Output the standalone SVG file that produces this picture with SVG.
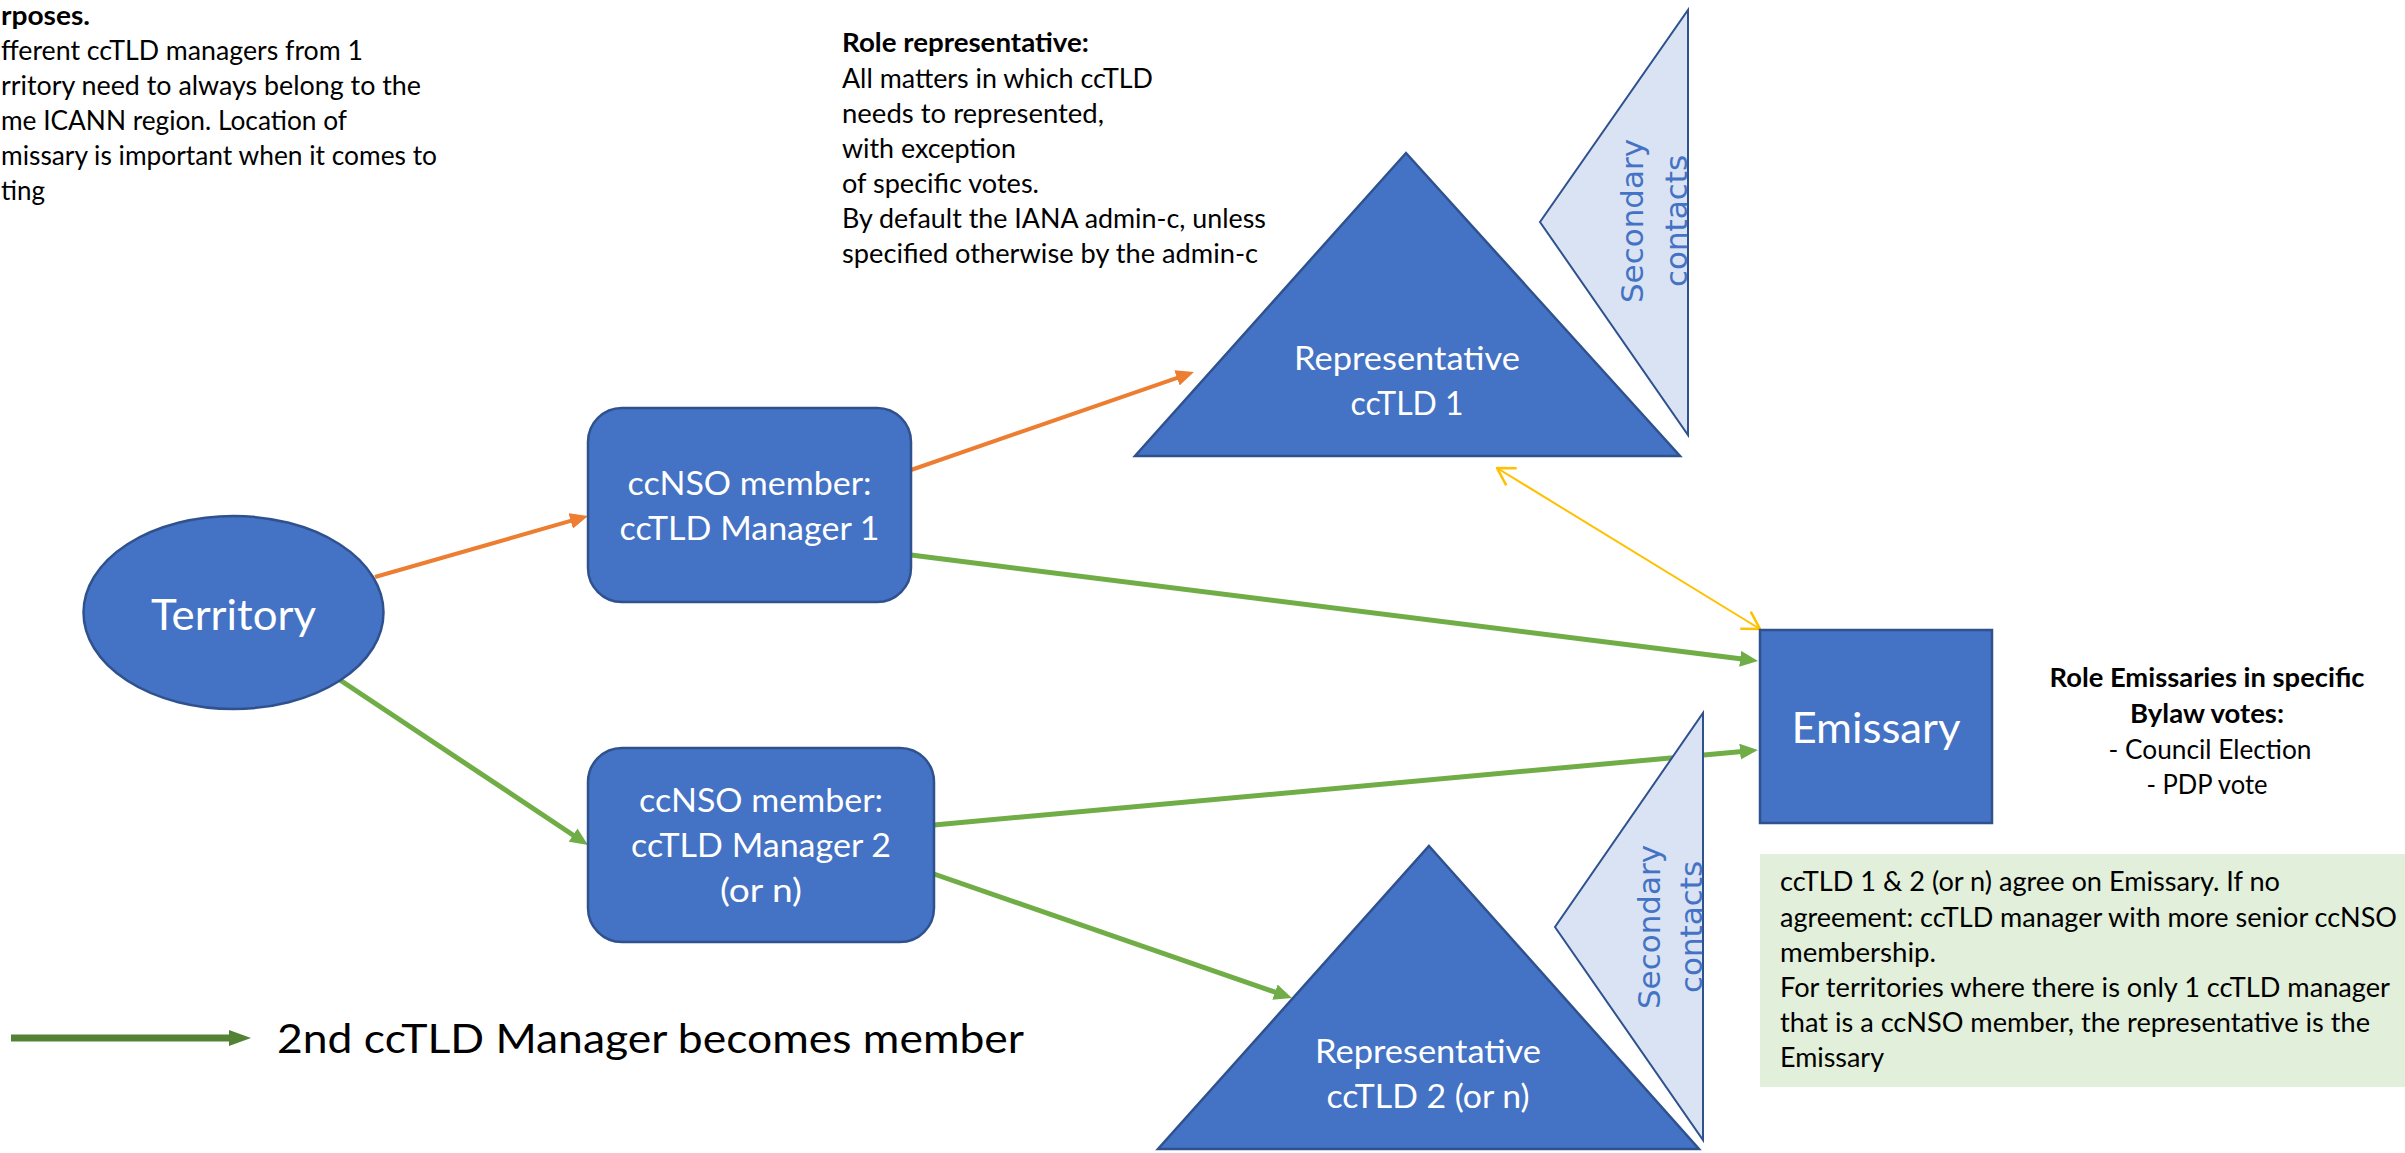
<svg xmlns="http://www.w3.org/2000/svg" width="2405" height="1153" viewBox="0 0 2405 1153">
<defs>
<style>
.t{font-family:Lato,"Liberation Sans",sans-serif;fill:#000}
.b{font-weight:bold}
.w{font-family:Lato,"Liberation Sans",sans-serif;fill:#fff;text-anchor:middle}
.sec{font-family:"DejaVu Sans","Liberation Sans",sans-serif;fill:#4472C4;font-size:31px;text-anchor:middle}
.shape{fill:#4472C4;stroke:#2F528F;stroke-width:2.5}
.light{fill:#DAE3F3;stroke:#2F528F;stroke-width:2}
.og{fill:none;stroke:#ED7D31;stroke-width:4}
.gr{fill:none;stroke:#70AD47;stroke-width:5}
.ye{fill:none;stroke:#FFC000;stroke-width:2}
</style>
<marker id="ao" viewBox="0 0 18 16" refX="8" refY="8" markerWidth="18" markerHeight="16" markerUnits="userSpaceOnUse" orient="auto"><path d="M0,0 L18,8 L0,16 z" fill="#ED7D31"/></marker>
<marker id="ag" viewBox="0 0 18 16" refX="8" refY="8" markerWidth="18" markerHeight="16" markerUnits="userSpaceOnUse" orient="auto"><path d="M0,0 L18,8 L0,16 z" fill="#70AD47"/></marker>
<marker id="ad" viewBox="0 0 22 16" refX="2" refY="8" markerWidth="22" markerHeight="16" markerUnits="userSpaceOnUse" orient="auto"><path d="M0,0 L22,8 L0,16 z" fill="#548235"/></marker>
<marker id="ay" viewBox="0 0 20 24" refX="19" refY="12" markerWidth="20" markerHeight="24" markerUnits="userSpaceOnUse" orient="auto-start-reverse"><path d="M2,2 L19,12 L2,22" fill="none" stroke="#FFC000" stroke-width="2.5"/></marker>
</defs>
<rect width="2405" height="1153" fill="#fff"/>

<g id="note-topleft">
<text class="t b" x="1" y="25" font-size="26" textLength="89" lengthAdjust="spacingAndGlyphs">rposes.</text>
<text class="t" x="1" y="60" font-size="26" textLength="362" lengthAdjust="spacingAndGlyphs">fferent ccTLD managers from 1</text>
<text class="t" x="1" y="95" font-size="26" textLength="420" lengthAdjust="spacingAndGlyphs">rritory need to always belong to the</text>
<text class="t" x="1" y="130" font-size="26" textLength="346" lengthAdjust="spacingAndGlyphs">me ICANN region. Location of</text>
<text class="t" x="1" y="165" font-size="26" textLength="436" lengthAdjust="spacingAndGlyphs">missary is important when it comes to</text>
<text class="t" x="1" y="200" font-size="26" textLength="44" lengthAdjust="spacingAndGlyphs">ting</text>
</g>

<g id="note-representative">
<text class="t b" x="842" y="52" font-size="26" textLength="247" lengthAdjust="spacingAndGlyphs">Role representative:</text>
<text class="t" x="842" y="88" font-size="26" textLength="311" lengthAdjust="spacingAndGlyphs">All matters in which ccTLD</text>
<text class="t" x="842" y="123" font-size="26" textLength="262" lengthAdjust="spacingAndGlyphs">needs to represented,</text>
<text class="t" x="842" y="158" font-size="26" textLength="174" lengthAdjust="spacingAndGlyphs">with exception</text>
<text class="t" x="842" y="193" font-size="26" textLength="197" lengthAdjust="spacingAndGlyphs">of specific votes.</text>
<text class="t" x="842" y="228" font-size="26" textLength="424" lengthAdjust="spacingAndGlyphs">By default the IANA admin-c, unless</text>
<text class="t" x="842" y="263" font-size="26" textLength="416" lengthAdjust="spacingAndGlyphs">specified otherwise by the admin-c</text>
</g>

<g id="connectors">
<line class="og" x1="375" y1="577" x2="578.4" y2="518.7" marker-end="url(#ao)"/>
<line class="og" x1="911" y1="470" x2="1184.5" y2="375.3" marker-end="url(#ao)"/>
<line class="gr" x1="911" y1="555" x2="1748.1" y2="659.8" marker-end="url(#ag)"/>
<line class="gr" x1="340" y1="680" x2="579.7" y2="839.5" stroke-width="3" marker-end="url(#ag)"/>
<line class="gr" x1="934" y1="825" x2="1748" y2="750.9" marker-end="url(#ag)"/>
<line class="gr" x1="934" y1="874" x2="1282.5" y2="994.7" stroke-width="4" marker-end="url(#ag)"/>
<line class="ye" x1="1497" y1="468" x2="1760" y2="629" marker-start="url(#ay)" marker-end="url(#ay)"/>
</g>

<g id="territory">
<ellipse class="shape" cx="233.5" cy="612.5" rx="150" ry="96.5"/>
<text class="w" x="233.5" y="630" font-size="42" textLength="165" lengthAdjust="spacingAndGlyphs">Territory</text>
</g>

<g id="manager1">
<rect class="shape" x="588" y="408" width="323" height="194" rx="34"/>
<text class="w" x="749.5" y="495" font-size="33" textLength="244" lengthAdjust="spacingAndGlyphs">ccNSO member:</text>
<text class="w" x="749.5" y="540" font-size="33" textLength="260" lengthAdjust="spacingAndGlyphs">ccTLD Manager 1</text>
</g>

<g id="manager2">
<rect class="shape" x="588" y="748" width="346" height="194" rx="34"/>
<text class="w" x="761" y="812" font-size="33" textLength="244" lengthAdjust="spacingAndGlyphs">ccNSO member:</text>
<text class="w" x="761" y="857" font-size="33" textLength="260" lengthAdjust="spacingAndGlyphs">ccTLD Manager 2</text>
<text class="w" x="761" y="902" font-size="33" textLength="82" lengthAdjust="spacingAndGlyphs">(or n)</text>
</g>

<g id="representative1">
<polygon class="shape" points="1406,153 1680,456 1135,456"/>
<text class="w" x="1407" y="370" font-size="33" textLength="226" lengthAdjust="spacingAndGlyphs">Representative</text>
<text class="w" x="1407" y="415" font-size="33" textLength="113" lengthAdjust="spacingAndGlyphs">ccTLD 1</text>
</g>

<g id="secondary1">
<polygon class="light" points="1688,10 1688,435 1540,222"/>
<text class="sec" transform="translate(1643,221) rotate(-90)">Secondary</text>
<text class="sec" transform="translate(1687,221) rotate(-90)">contacts</text>
</g>

<g id="representative2">
<polygon class="shape" points="1429,846 1699,1149 1158,1149"/>
<text class="w" x="1428" y="1063" font-size="33" textLength="226" lengthAdjust="spacingAndGlyphs">Representative</text>
<text class="w" x="1428" y="1108" font-size="33" textLength="203" lengthAdjust="spacingAndGlyphs">ccTLD 2 (or n)</text>
</g>

<g id="secondary2">
<polygon class="light" points="1703,713 1703,1140 1555,927"/>
<text class="sec" transform="translate(1660,927) rotate(-90)">Secondary</text>
<text class="sec" transform="translate(1702,927) rotate(-90)">contacts</text>
</g>

<g id="emissary">
<rect class="shape" x="1760" y="630" width="232" height="193"/>
<text class="w" x="1876" y="743" font-size="42" textLength="169" lengthAdjust="spacingAndGlyphs">Emissary</text>
</g>

<g id="note-emissaries">
<text class="t b" x="2207" y="687" font-size="26" text-anchor="middle" textLength="315" lengthAdjust="spacingAndGlyphs">Role Emissaries in specific</text>
<text class="t b" x="2207" y="723" font-size="26" text-anchor="middle" textLength="154" lengthAdjust="spacingAndGlyphs">Bylaw votes:</text>
<text class="t" x="2210" y="759" font-size="26" text-anchor="middle" textLength="203" lengthAdjust="spacingAndGlyphs">- Council Election</text>
<text class="t" x="2207" y="794" font-size="26" text-anchor="middle" textLength="121" lengthAdjust="spacingAndGlyphs">- PDP vote</text>
</g>

<g id="note-agreement">
<rect x="1760" y="854" width="645" height="233" fill="#E2EFDA"/>
<text class="t" x="1780" y="891" font-size="26" textLength="500" lengthAdjust="spacingAndGlyphs">ccTLD 1 &amp; 2 (or n) agree on Emissary. If no</text>
<text class="t" x="1780" y="927" font-size="26" textLength="617" lengthAdjust="spacingAndGlyphs">agreement: ccTLD manager with more senior ccNSO</text>
<text class="t" x="1780" y="962" font-size="26" textLength="156" lengthAdjust="spacingAndGlyphs">membership.</text>
<text class="t" x="1780" y="997" font-size="26" textLength="610" lengthAdjust="spacingAndGlyphs">For territories where there is only 1 ccTLD manager</text>
<text class="t" x="1780" y="1032" font-size="26" textLength="590" lengthAdjust="spacingAndGlyphs">that is a ccNSO member, the representative is the</text>
<text class="t" x="1780" y="1067" font-size="26" textLength="104" lengthAdjust="spacingAndGlyphs">Emissary</text>
</g>

<g id="legend">
<line x1="11" y1="1038" x2="231" y2="1038" stroke="#548235" stroke-width="7" marker-end="url(#ad)"/>
<text class="t" x="277" y="1053" font-size="40" textLength="747" lengthAdjust="spacingAndGlyphs">2nd ccTLD Manager becomes member</text>
</g>
</svg>
